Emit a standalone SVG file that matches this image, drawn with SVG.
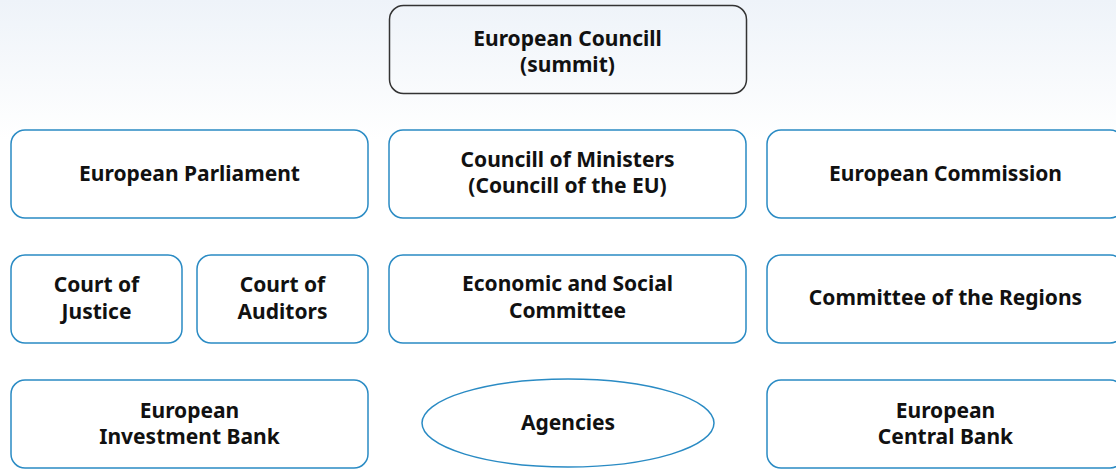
<svg xmlns="http://www.w3.org/2000/svg" width="1116" height="471" viewBox="0 0 1116 471">
<defs>
<linearGradient id="bg" x1="0" y1="0" x2="0" y2="1">
<stop offset="0" stop-color="#eef3f9"/>
<stop offset="1" stop-color="#ffffff"/>
</linearGradient>
<style>
.box{fill:#ffffff;stroke:#2a8bc4;stroke-width:1.5}
.top{fill:none;stroke:#333333;stroke-width:1.5}
text{font-family:"Noto Sans","Open Sans",sans-serif;font-weight:bold;font-size:21px;fill:#111111;text-anchor:middle}
</style>
</defs>
<rect x="0" y="0" width="1116" height="140" fill="url(#bg)"/>
<g id="connectors"/>
<g id="european-council">
<rect class="top" x="389.5" y="5.5" width="357" height="88" rx="14"/>
<text x="567.5" y="46">European Councill</text>
<text x="567.5" y="72">(summit)</text>
</g>
<g id="european-parliament">
<rect class="box" x="11" y="130" width="357" height="88" rx="14"/>
<text x="189.5" y="181">European Parliament</text>
</g>
<g id="council-of-ministers">
<rect class="box" x="389" y="130" width="357" height="88" rx="14"/>
<text x="567.5" y="167">Councill of Ministers</text>
<text x="567.5" y="193">(Councill of the EU)</text>
</g>
<g id="european-commission">
<rect class="box" x="767" y="130" width="357" height="88" rx="14"/>
<text x="945.5" y="181">European Commission</text>
</g>
<g id="court-of-justice">
<rect class="box" x="11" y="255" width="171" height="88" rx="14"/>
<text x="96.5" y="292">Court of</text>
<text x="96.5" y="319">Justice</text>
</g>
<g id="court-of-auditors">
<rect class="box" x="197" y="255" width="171" height="88" rx="14"/>
<text x="282.5" y="292">Court of</text>
<text x="282.5" y="319">Auditors</text>
</g>
<g id="economic-social-committee">
<rect class="box" x="389" y="255" width="357" height="88" rx="14"/>
<text x="567.5" y="291">Economic and Social</text>
<text x="567.5" y="318">Committee</text>
</g>
<g id="committee-of-regions">
<rect class="box" x="767" y="255" width="357" height="88" rx="14"/>
<text x="945.5" y="305">Committee of the Regions</text>
</g>
<g id="european-investment-bank">
<rect class="box" x="11" y="380" width="357" height="88" rx="14"/>
<text x="189.5" y="418">European</text>
<text x="189.5" y="444">Investment Bank</text>
</g>
<g id="agencies">
<ellipse class="box" cx="568" cy="423" rx="146" ry="44"/>
<text x="568" y="430">Agencies</text>
</g>
<g id="european-central-bank">
<rect class="box" x="767" y="380" width="357" height="88" rx="14"/>
<text x="945.5" y="418">European</text>
<text x="945.5" y="444">Central Bank</text>
</g>
</svg>
